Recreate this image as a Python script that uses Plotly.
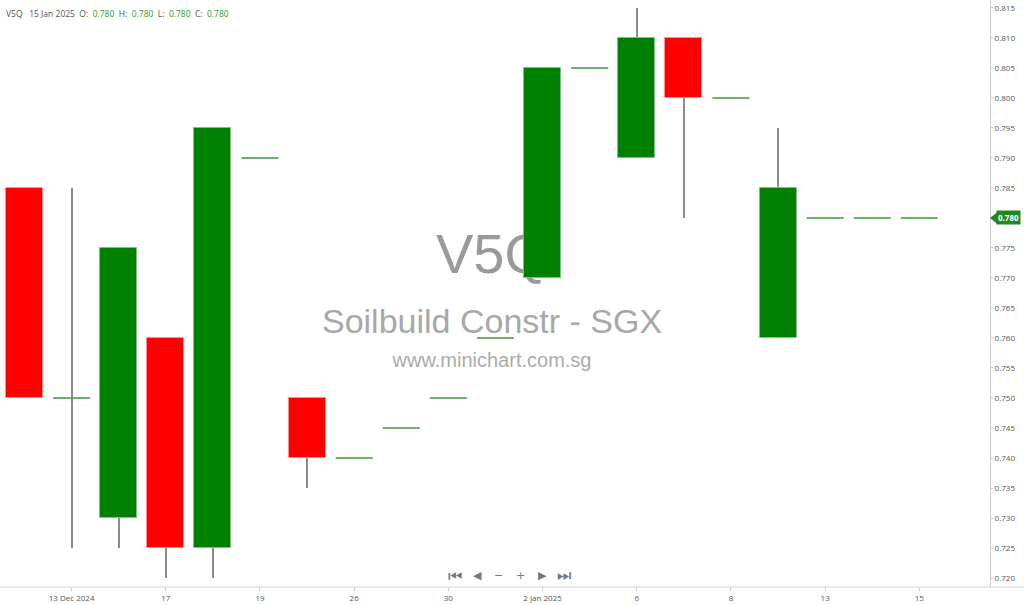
import plotly.graph_objs as go

# daily prices, V5Q (Soilbuild Constr - SGX)
dates = ['12 Dec 2024', '13 Dec 2024', '16 Dec 2024', '17 Dec 2024', '18 Dec 2024',
         '19 Dec 2024', '23 Dec 2024', '26 Dec 2024', '27 Dec 2024', '30 Dec 2024',
         '31 Dec 2024', '2 Jan 2025', '3 Jan 2025', '6 Jan 2025', '7 Jan 2025',
         '8 Jan 2025', '10 Jan 2025', '13 Jan 2025', '14 Jan 2025', '15 Jan 2025']
opens = [0.785, 0.750, 0.730, 0.760, 0.725, 0.790, 0.750, 0.740, 0.745, 0.750,
         0.760, 0.770, 0.805, 0.790, 0.810, 0.800, 0.760, 0.780, 0.780, 0.780]
highs = [0.785, 0.785, 0.775, 0.760, 0.795, 0.790, 0.750, 0.740, 0.745, 0.750,
         0.760, 0.805, 0.805, 0.815, 0.810, 0.800, 0.795, 0.780, 0.780, 0.780]
lows = [0.750, 0.725, 0.725, 0.720, 0.720, 0.790, 0.735, 0.740, 0.745, 0.750,
        0.760, 0.770, 0.805, 0.790, 0.780, 0.800, 0.760, 0.780, 0.780, 0.780]
closes = [0.750, 0.750, 0.775, 0.725, 0.795, 0.790, 0.740, 0.740, 0.745, 0.750,
          0.760, 0.805, 0.805, 0.810, 0.800, 0.800, 0.785, 0.780, 0.780, 0.780]

tick_idx = [1, 3, 5, 7, 9, 11, 13, 15, 17, 19]
tick_text = ['13 Dec 2024', '17', '19', '26', '30', '2 Jan 2025', '6', '8', '13', '15']

watermark = ['V5Q', 'Soilbuild Constr - SGX', 'www.minichart.com.sg']

GREEN = '#008000'
RED = '#ff0000'
half = 0.393

xs = list(range(len(dates)))
x_range = [-0.52, 20.50]
y_range = [0.7185, 0.81633]


def main():
    # watermark sits on the base axes, the candles on overlaying axes above it
    wm = go.Scatter(
        x=[0.497, 0.497, 0.497],
        y=[0.558, 0.447, 0.384],
        mode='text',
        text=watermark,
        textfont=dict(family='Liberation Sans', size=[56, 34, 20], color=['#9a9a9a', '#a8a8a8', '#ababab']),
        hoverinfo='skip', showlegend=False
    )

    # wicks as hairline bars so they stay under the bodies
    wx, wbase, wh = [], [], []
    for i in xs:
        if highs[i] != lows[i]:
            wx.append(i)
            wbase.append(lows[i])
            wh.append(highs[i] - lows[i])
    wicks = go.Bar(x=wx, y=wh, base=wbase, width=1 / 47.1, xaxis='x2', yaxis='y2',
                   marker=dict(color='#8c8c8c', line=dict(width=0)),
                   hoverinfo='skip', showlegend=False)

    # bodies
    bx, bbase, bh, bcol, bline = [], [], [], [], []
    for i in xs:
        if opens[i] != closes[i]:
            bx.append(i)
            bbase.append(min(opens[i], closes[i]))
            bh.append(abs(closes[i] - opens[i]))
            up = closes[i] > opens[i]
            bcol.append(GREEN if up else RED)
            bline.append('#7fc07f' if up else '#ff9090')
    bodies = go.Bar(x=bx, y=bh, base=bbase, width=2 * half, xaxis='x2', yaxis='y2',
                    marker=dict(color=bcol, line=dict(color=bline, width=1)),
                    hoverinfo='skip', showlegend=False)

    # open == close days
    dx, dy = [], []
    for i in xs:
        if opens[i] == closes[i]:
            dx += [i - half, i + half, None]
            dy += [closes[i], closes[i], None]
    dojis = go.Scatter(x=dx, y=dy, mode='lines', xaxis='x2', yaxis='y2',
                       line=dict(color='#3a9a3a', width=1.4),
                       hoverinfo='skip', showlegend=False)

    fig = go.Figure(data=[wm, wicks, bodies, dojis])

    last = closes[-1]
    # price ticks every 0.005, the one under the last-price tag is left out
    yticks = [round(0.720 + 0.005 * k, 3) for k in range(20)]
    yticks = [t for t in yticks if t != last]

    hdr = ('V5Q&nbsp;&nbsp;&nbsp;15 Jan 2025&nbsp;&nbsp;'
           'O:&nbsp;&nbsp;<span style="color:#2a9a2a">%.3f</span>&nbsp;&nbsp;'
           'H:&nbsp;&nbsp;<span style="color:#2a9a2a">%.3f</span>&nbsp;&nbsp;'
           'L:&nbsp;&nbsp;<span style="color:#2a9a2a">%.3f</span>&nbsp;&nbsp;'
           'C:&nbsp;&nbsp;<span style="color:#2a9a2a">%.3f</span>'
           % (opens[-1], highs[-1], lows[-1], closes[-1]))

    annotations = [
        dict(text=hdr, xref='paper', yref='paper', x=0.004, y=0.99, xanchor='left', yanchor='top',
             showarrow=False, font=dict(family='Open Sans', size=8.5, color='#555')),
        dict(text='<b>%.3f</b>' % last, xref='paper', yref='y2', x=1, y=last, xanchor='left',
             yanchor='middle', xshift=6, showarrow=False, bgcolor='#1f8a1f', borderpad=1,
             font=dict(family='Open Sans', size=8, color='white')),
    ]
    nav = ['⏮', '◀', '−', '+', '▶', '⏭']
    nav_px = [455, 477, 498, 520, 542, 564]
    nav_sz = [16, 11, 11, 11, 11, 16]
    for s, px, sz in zip(nav, nav_px, nav_sz):
        annotations.append(dict(text=s, xref='paper', yref='paper', x=px / 990, y=12 / 587,
                                xanchor='center', yanchor='middle', showarrow=False,
                                font=dict(family='DejaVu Sans', size=sz, color='#777')))

    fig.update_layout(
        width=1024, height=605,
        margin=dict(l=0, r=34, t=0, b=18),
        paper_bgcolor='white', plot_bgcolor='white',
        barmode='overlay', bargap=0,
        showlegend=False,
        annotations=annotations,
        shapes=[
            dict(type='path', xref='paper', yref='y2',
                 path='M 1 %f L 1.0075 %f L 1.0075 %f Z' % (last, last + 0.001, last - 0.001),
                 fillcolor='#1f8a1f', line=dict(width=0)),
            dict(type='line', xref='paper', yref='paper', x0=0, x1=1024 / 990, y0=0, y1=0,
                 line=dict(color='#d0d0d0', width=1)),
        ],
        xaxis=dict(range=[0, 1], visible=False, fixedrange=True),
        yaxis=dict(range=[0, 1], visible=False, fixedrange=True),
        xaxis2=dict(overlaying='x', range=x_range, tickvals=tick_idx, ticktext=tick_text,
                    showgrid=False, zeroline=False, showline=False, ticks='outside', ticklen=3,
                    tickcolor='#ccc', tickfont=dict(family='Open Sans', size=8, color='#555')),
        yaxis2=dict(overlaying='y', range=y_range, side='right', tickvals=yticks,
                    tickformat='.3f', showgrid=False, zeroline=False, showline=True,
                    linecolor='#ccc', ticks='outside', ticklen=2, tickcolor='#ccc',
                    tickfont=dict(family='Open Sans', size=8, color='#555')),
    )

    # page has a default 8px body margin, drop it so the chart fills the window
    fig.write_html("out.html", config={'displayModeBar': False},
                   post_script="document.body.style.margin='0';")


if __name__ == "__main__":
    main()
